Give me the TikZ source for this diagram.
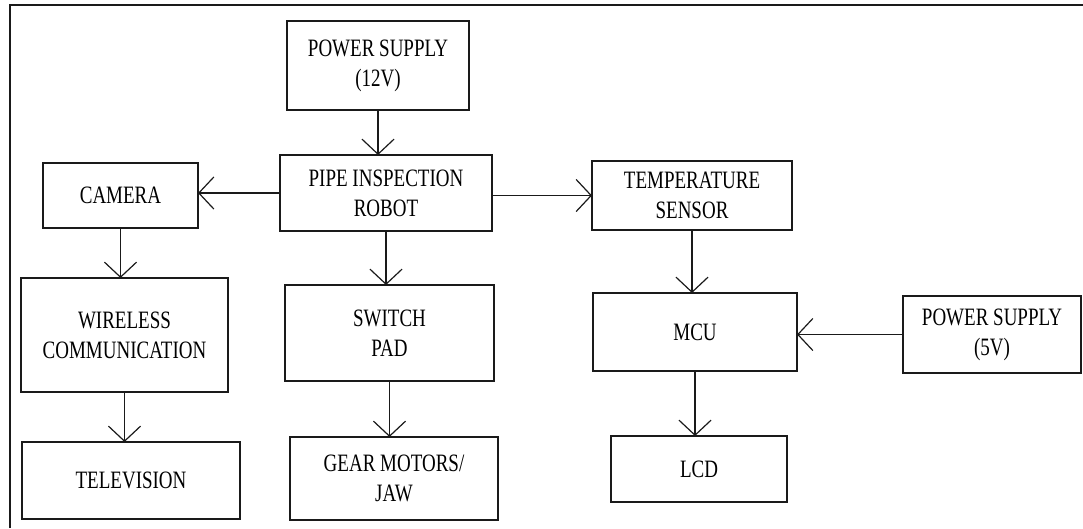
\documentclass[tikz,border=0pt]{standalone}
\usepackage{fontspec}
\setmainfont{Liberation Serif}[FakeStretch=0.76]
\usepackage{xcolor}
\usepackage{tikz}
\usetikzlibrary{positioning, arrows.meta}
\definecolor{ink}{HTML}{1A1A1A}
\tikzset{
  blk/.style   = {rectangle, draw=ink, line width=1.4pt, fill=white,
                  inner sep=0pt, outer sep=0pt, align=center,
                  font=\fontsize{25}{30}\selectfont},
  arr/.style   = {-{Straight Barb[length=15pt,width=32pt,line width=1.2pt]},
                  line width=1.4pt, draw=ink},
  frame/.style = {line width=2.6pt, draw=ink},
}
\begin{document}
\begin{tikzpicture}[x=1pt, y=-1pt]

  \useasboundingbox (0,0) rectangle (1083,528);
  \draw[frame] (10,528) -- (10,5) -- (1083,5);

  \node[blk, minimum width=182pt, minimum height=89pt] (ps12) at (378,65.5)
       {POWER SUPPLY\\(12V)};
  \node[blk, minimum width=212pt, minimum height=76pt] (robot) at (386,193)
       {PIPE INSPECTION\\ROBOT};
  \node[blk, minimum width=155pt, minimum height=65pt] (camera) at (120.5,195.5)
       {CAMERA};
  \node[blk, minimum width=200pt, minimum height=69pt] (temp) at (692,195.5)
       {TEMPERATURE\\SENSOR};

  \node[blk, minimum width=207pt, minimum height=114pt] (wireless) at (124.5,335)
       {WIRELESS\\COMMUNICATION};
  \node[blk, minimum width=209pt, minimum height=96pt] (switch) at (389.5,333)
       {SWITCH\\PAD};
  \node[blk, minimum width=204pt, minimum height=78pt] (mcu) at (695,332)
       {MCU};
  \node[blk, minimum width=178pt, minimum height=77pt] (ps5) at (992,334.5)
       {POWER SUPPLY\\(5V)};

  \node[blk, minimum width=218pt, minimum height=77pt] (tv) at (131,480.5)
       {TELEVISION};
  \node[blk, minimum width=208pt, minimum height=83pt] (gear) at (394,478.5)
       {GEAR MOTORS/\\JAW};
  \node[blk, minimum width=176pt, minimum height=66pt] (lcd) at (699,469)
       {LCD};

  \draw[arr] (ps12.south) -- (ps12.south |- robot.north);
  \draw[arr] (robot.west) -- (robot.west -| camera.east);
  \draw[arr] (robot.east |- temp.west) -- (temp.west);
  \draw[arr] (camera.south) -- (camera.south |- wireless.north);
  \draw[arr] (robot.south) -- (robot.south |- switch.north);
  \draw[arr] (temp.south) -- (temp.south |- mcu.north);
  \draw[arr] (ps5.west) -- (ps5.west -| mcu.east);
  \draw[arr] (wireless.south) -- (wireless.south |- tv.north);
  \draw[arr] (switch.south) -- (switch.south |- gear.north);
  \draw[arr] (mcu.south) -- (mcu.south |- lcd.north);

\end{tikzpicture}
\end{document}
